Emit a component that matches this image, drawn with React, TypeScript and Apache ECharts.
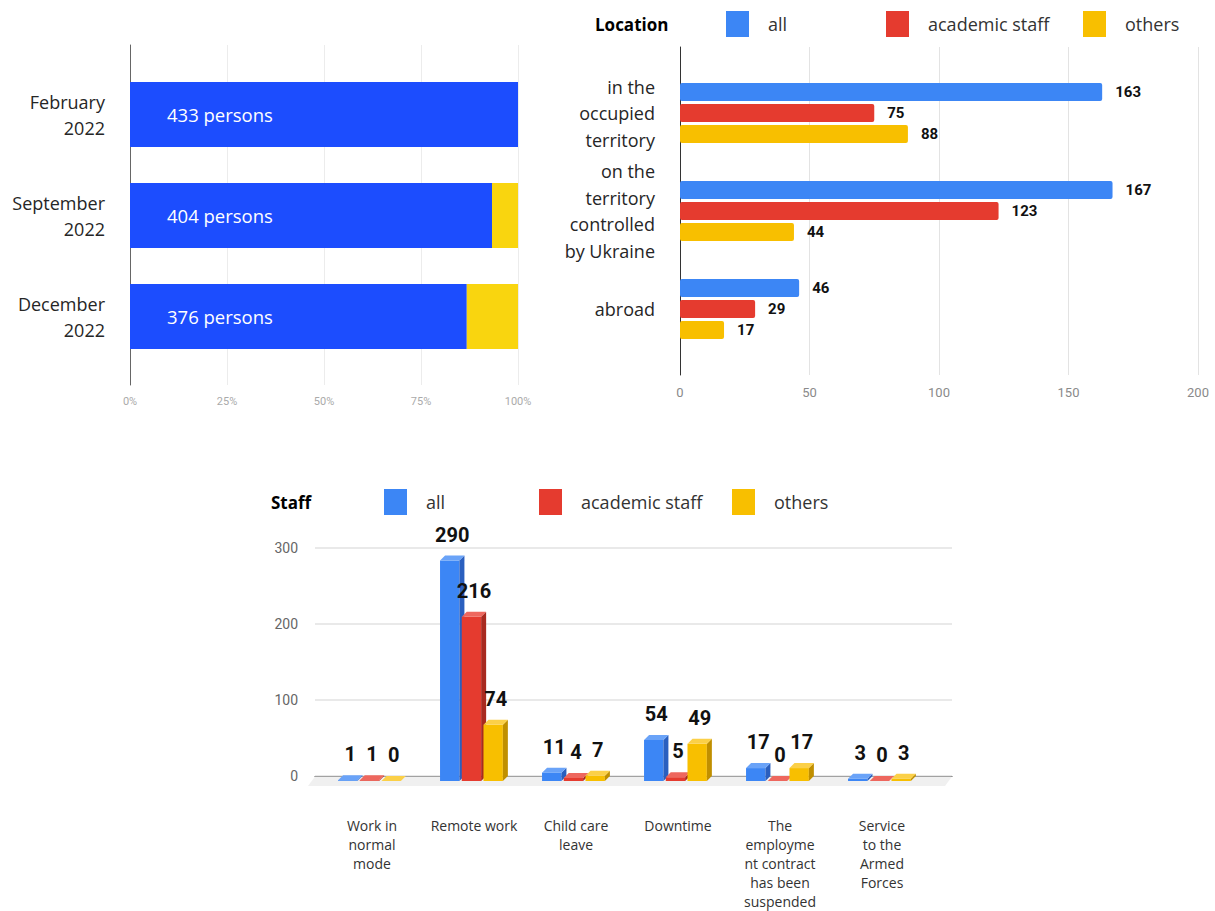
import React, { useEffect, useRef } from "react";
import * as echarts from "echarts";

// ---- Top-left: staff count over time ----
const monthCategories = ["February\n2022", "September\n2022", "December\n2022"];
const personsCounts = [433, 404, 376];
const shareMain = [100, 93.3, 86.8];
const shareRest = [0, 6.7, 13.2];
const percentTicks = [0, 25, 50, 75, 100];

// ---- Top-right: location ----
const locationCategories = [
  "in the\noccupied\nterritory",
  "on the\nterritory\ncontrolled\nby Ukraine",
  "abroad",
];
const locationAll = [163, 167, 46];
const locationAcademic = [75, 123, 29];
const locationOthers = [88, 44, 17];

// ---- Bottom: staff status ----
const staffCategories = [
  "Work in\nnormal\nmode",
  "Remote work",
  "Child care\nleave",
  "Downtime",
  "The\nemployme\nnt contract\nhas been\nsuspended",
  "Service\nto the\nArmed\nForces",
];
const staffAll = [1, 290, 11, 54, 17, 3];
const staffAcademic = [1, 216, 4, 5, 0, 0];
const staffOthers = [0, 74, 7, 49, 17, 3];

const seriesNames = ["all", "academic staff", "others"];

const BLUE = "#3c86f5";
const RED = "#e53b2f";
const YELLOW = "#f8bf00";
const SIDE = ["#2a5fbf", "#a82a20", "#c08f00"];
const TOP = ["#6aa3f8", "#ee675e", "#fbd048"];
const FRONT = [BLUE, RED, YELLOW];

const TEXT_FONT = "Open Sans";

function make3DRender(i: number) {
  return (params: any, api: any) => {
    const idx = api.value(0);
    const val = api.value(1);
    const c = api.coord([idx, val]);
    const c0 = api.coord([idx, 0]);
    const band = api.size([1, 0])[0];
    const w = band * 0.19;
    const pitch = band * 0.213;
    const d = 5;
    const groupLeft = c[0] - band * 0.333;
    const fl = groupLeft + i * pitch;
    const yv = c[1];
    const y0 = c0[1];
    return {
      type: "group",
      children: [
        {
          type: "rect",
          shape: { x: fl, y: yv + d, width: w, height: y0 - yv },
          style: { fill: FRONT[i] },
        },
        {
          type: "polygon",
          shape: {
            points: [
              [fl + w, yv + d],
              [fl + w + d, yv],
              [fl + w + d, y0],
              [fl + w, y0 + d],
            ],
          },
          style: { fill: SIDE[i] },
        },
        {
          type: "polygon",
          shape: {
            points: [
              [fl, yv + d],
              [fl + w, yv + d],
              [fl + w + d, yv],
              [fl + d, yv],
            ],
          },
          style: { fill: TOP[i] },
        },
        {
          type: "text",
          style: {
            text: String(val),
            x: fl + (w + d) / 2,
            y: yv - 21,
            align: "center",
            verticalAlign: "middle",
            fontFamily: "Roboto",
            fontWeight: "bold",
            fontSize: 20,
            fill: "#111",
          },
        },
      ],
    };
  };
}

export default function App() {
  const ref = useRef<HTMLDivElement>(null);

  useEffect(() => {
    if (!ref.current) return;
    const chart = echarts.init(ref.current, undefined, { renderer: "svg" });

    const catLabel = {
      fontFamily: TEXT_FONT,
      fontSize: 18,
      color: "#262626",
      lineHeight: 26.5,
      align: "right" as const,
    };

    const legendBase = (name: string, left: number, top: number) => ({
      data: [name],
      left,
      top,
      padding: 0,
      icon: "rect",
      itemWidth: 23,
      itemHeight: 26,
      selectedMode: false,
      textStyle: {
        fontFamily: TEXT_FONT,
        fontSize: 18,
        color: "#333",
        padding: [0, 0, 0, 14],
      },
    });

    const g = (left: number, top: number, width: number, height: number) => ({
      left,
      top,
      width,
      height,
      containLabel: false,
      outerBoundsMode: "none",
    });

    const option: any = {
      animation: false,
      backgroundColor: "#fff",
      title: [
        {
          text: "Location",
          left: 595,
          top: 16,
          padding: 0,
          textStyle: { fontFamily: TEXT_FONT, fontWeight: "bold", fontSize: 17, color: "#000" },
        },
        {
          text: "Staff",
          left: 271,
          top: 494,
          padding: 0,
          textStyle: { fontFamily: TEXT_FONT, fontWeight: "bold", fontSize: 17, color: "#000" },
        },
      ],
      legend: [
        legendBase("all", 726, 11),
        legendBase("academic staff", 886, 11),
        legendBase("others", 1083, 11),
        legendBase("all", 384, 489),
        legendBase("academic staff", 539, 489),
        legendBase("others", 732, 489),
      ],
      grid: [
        g(130, 64, 388, 303),
        g(130, 45, 388, 340),
        g(680, 64, 518, 294),
        g(680, 47, 518, 328),
        g(321, 548, 612, 228),
        g(315, 548, 637, 228),
      ],
      xAxis: [
        { gridIndex: 0, type: "value", min: 0, max: 100, show: false },
        {
          gridIndex: 1,
          type: "value",
          min: percentTicks[0],
          max: percentTicks[percentTicks.length - 1],
          interval: 25,
          axisLine: { show: false },
          axisTick: { show: false },
          axisLabel: {
            formatter: "{value}%",
            fontFamily: "Roboto",
            fontSize: 11,
            color: "#aaaaaa",
            margin: 11,
          },
          splitLine: { show: true, lineStyle: { color: "#ececec" } },
        },
        { gridIndex: 2, type: "value", min: 0, max: 200, show: false },
        {
          gridIndex: 3,
          type: "value",
          min: 0,
          max: 200,
          interval: 50,
          axisLine: { show: false },
          axisTick: { show: false },
          axisLabel: { fontFamily: "Roboto", fontSize: 13, color: "#8a8a8a", margin: 11 },
          splitLine: { show: true, lineStyle: { color: "#e3e3e3" } },
        },
        {
          gridIndex: 4,
          type: "category",
          data: staffCategories,
          axisLine: { show: false },
          axisTick: { show: false },
          axisLabel: {
            interval: 0,
            fontFamily: TEXT_FONT,
            fontSize: 14,
            color: "#333",
            lineHeight: 19,
            margin: 40,
          },
        },
        {
          gridIndex: 5,
          type: "category",
          data: [""],
          axisLine: { show: true, lineStyle: { color: "#555", width: 1.2 } },
          axisTick: { show: false },
          axisLabel: { show: false },
        },
      ],
      yAxis: [
        {
          gridIndex: 0,
          type: "category",
          inverse: true,
          data: monthCategories,
          axisLine: { show: false },
          axisTick: { show: false },
          axisLabel: { ...catLabel, lineHeight: 26, margin: 25 },
        },
        {
          gridIndex: 1,
          type: "category",
          data: [""],
          axisLine: { show: true, lineStyle: { color: "#666" } },
          axisTick: { show: false },
          axisLabel: { show: false },
        },
        {
          gridIndex: 2,
          type: "category",
          inverse: true,
          data: locationCategories,
          axisLine: { show: false },
          axisTick: { show: false },
          axisLabel: { ...catLabel, margin: 25 },
        },
        {
          gridIndex: 3,
          type: "category",
          data: [""],
          axisLine: { show: true, lineStyle: { color: "#333" } },
          axisTick: { show: false },
          axisLabel: { show: false },
        },
        { gridIndex: 4, type: "value", min: 0, max: 300, show: false },
        {
          gridIndex: 5,
          type: "value",
          min: 0,
          max: 300,
          interval: 100,
          axisLine: { show: false },
          axisTick: { show: false },
          axisLabel: { fontFamily: "Roboto", fontSize: 14, color: "#666", margin: 17 },
          splitLine: { show: true, lineStyle: { color: "#e2e2e2", width: 1.5 } },
        },
      ],
      series: [
        {
          name: "share main",
          type: "bar",
          xAxisIndex: 0,
          yAxisIndex: 0,
          stack: "tl",
          barWidth: 65,
          data: shareMain,
          itemStyle: { color: "#1c4dfe" },
          label: {
            show: true,
            position: "insideLeft",
            distance: 37,
            formatter: (p: any) => `${personsCounts[p.dataIndex]} persons`,
            fontFamily: TEXT_FONT,
            fontSize: 18.5,
            color: "#fff",
          },
        },
        {
          name: "share rest",
          type: "bar",
          xAxisIndex: 0,
          yAxisIndex: 0,
          stack: "tl",
          barWidth: 65,
          data: shareRest,
          itemStyle: { color: "#f9d50f" },
        },
        ...[locationAll, locationAcademic, locationOthers].map((data, i) => ({
          name: seriesNames[i],
          type: "bar",
          xAxisIndex: 2,
          yAxisIndex: 2,
          barWidth: 18,
          barGap: "17%",
          data,
          itemStyle: { color: FRONT[i], borderRadius: 2 },
          label: {
            show: true,
            position: "right",
            distance: 13,
            fontFamily: "Roboto",
            fontWeight: "bold",
            fontSize: 15,
            color: "#111",
          },
        })),
        {
          name: "floor",
          type: "custom",
          xAxisIndex: 5,
          yAxisIndex: 5,
          z: 1,
          silent: true,
          data: [[0, 0]],
          renderItem: (params: any) => {
            const cs = params.coordSys;
            const y0 = cs.y + cs.height;
            return {
              type: "polygon",
              shape: {
                points: [
                  [cs.x, y0 + 0.6],
                  [cs.x + cs.width, y0 + 0.6],
                  [cs.x + cs.width - 7, y0 + 10],
                  [cs.x - 7, y0 + 10],
                ],
              },
              style: { fill: "#f0f0f0" },
            };
          },
        },
        ...[staffAll, staffAcademic, staffOthers].map((vals, i) => ({
          name: seriesNames[i],
          type: "custom",
          xAxisIndex: 4,
          yAxisIndex: 4,
          z: 3,
          itemStyle: { color: FRONT[i] },
          encode: { x: 0, y: 1 },
          data: vals.map((v, k) => [k, v]),
          renderItem: make3DRender(i),
        })),
      ],
    };

    chart.setOption(option);
    return () => chart.dispose();
  }, []);

  return (
    <div
      ref={ref}
      style={{ position: "fixed", left: 0, top: 0, width: 1215, height: 911 }}
    />
  );
}
